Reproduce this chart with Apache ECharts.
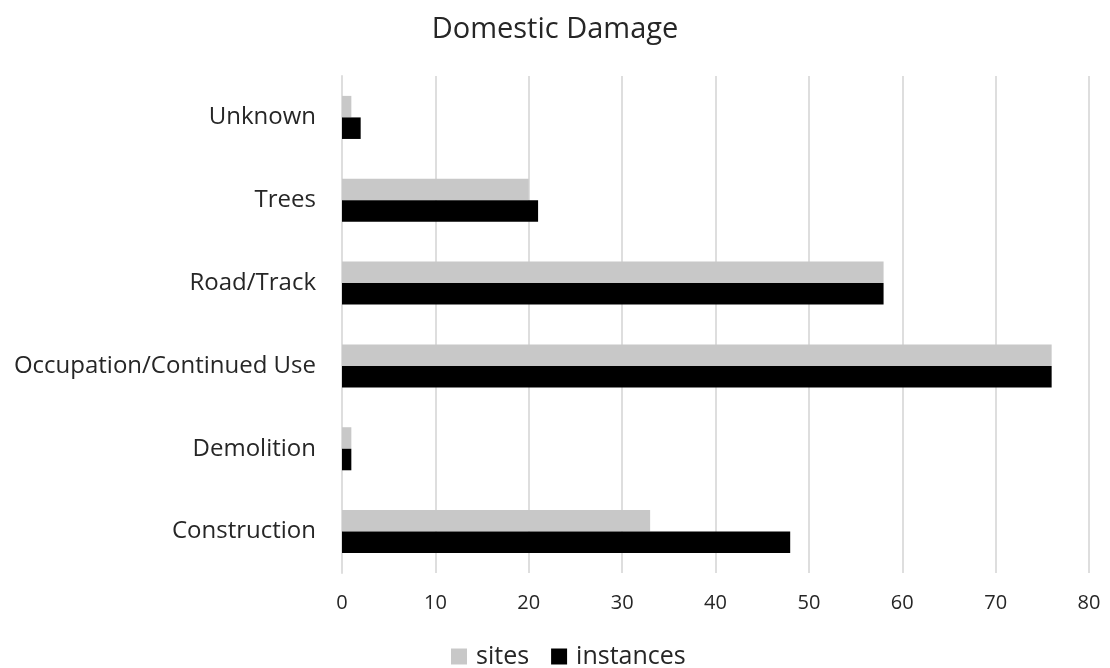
<!DOCTYPE html>
<html>
<head>
<meta charset="utf-8">
<script src="https://cdn.jsdelivr.net/npm/echarts@6/dist/echarts.min.js"></script>
<style>
  html, body { margin: 0; padding: 0; background: #fff; }
  #chart { width: 1110px; height: 668px; }
</style>
</head>
<body>
<div id="chart"></div>
<script>
// Damage causes, listed bottom to top on the category axis
const categories = ['Construction', 'Demolition', 'Occupation/Continued Use', 'Road/Track', 'Trees', 'Unknown'];
const sites = [33, 1, 76, 58, 20, 1];
const instances = [48, 1, 76, 58, 21, 2];
const xTicks = [0, 10, 20, 30, 40, 50, 60, 70, 80];

const FONT = '"Open Sans", "Noto Sans", sans-serif';
const chart = echarts.init(document.getElementById('chart'));

chart.setOption({
  backgroundColor: '#ffffff',
  animation: false,
  title: {
    text: 'Domestic Damage',
    left: 'center',
    top: 10,
    textStyle: { fontFamily: FONT, fontSize: 29, fontWeight: 'normal', color: '#262626' }
  },
  legend: {
    bottom: -6,
    left: 446,
    itemWidth: 16,
    itemHeight: 16,
    itemGap: 22,
    icon: 'rect',
    textStyle: { fontFamily: FONT, fontSize: 25, color: '#262626', padding: [0, 0, 0, 4] },
    data: ['sites', 'instances']
  },
  grid: { left: 342, right: 21, top: 76, bottom: 95, containLabel: false },
  xAxis: {
    type: 'value',
    min: xTicks[0],
    max: xTicks[xTicks.length - 1],
    interval: 10,
    axisLine: { show: false },
    axisTick: { show: false },
    splitLine: { show: true, lineStyle: { color: '#dedede', width: 2 } },
    axisLabel: { fontFamily: FONT, fontSize: 20, color: '#262626', margin: 20 }
  },
  yAxis: {
    type: 'category',
    data: categories,
    axisLine: { show: true, lineStyle: { color: '#dedede', width: 2 } },
    axisTick: { show: false },
    axisLabel: { fontFamily: FONT, fontSize: 24, color: '#262626', margin: 26 }
  },
  series: [
    {
      name: 'sites',
      type: 'bar',
      data: sites,
      itemStyle: { color: '#c8c8c8' },
      barGap: '0%',
      barCategoryGap: '48%'
    },
    {
      name: 'instances',
      type: 'bar',
      data: instances,
      itemStyle: { color: '#000000' },
      barGap: '0%',
      barCategoryGap: '48%'
    }
  ]
});
</script>
</body>
</html>
